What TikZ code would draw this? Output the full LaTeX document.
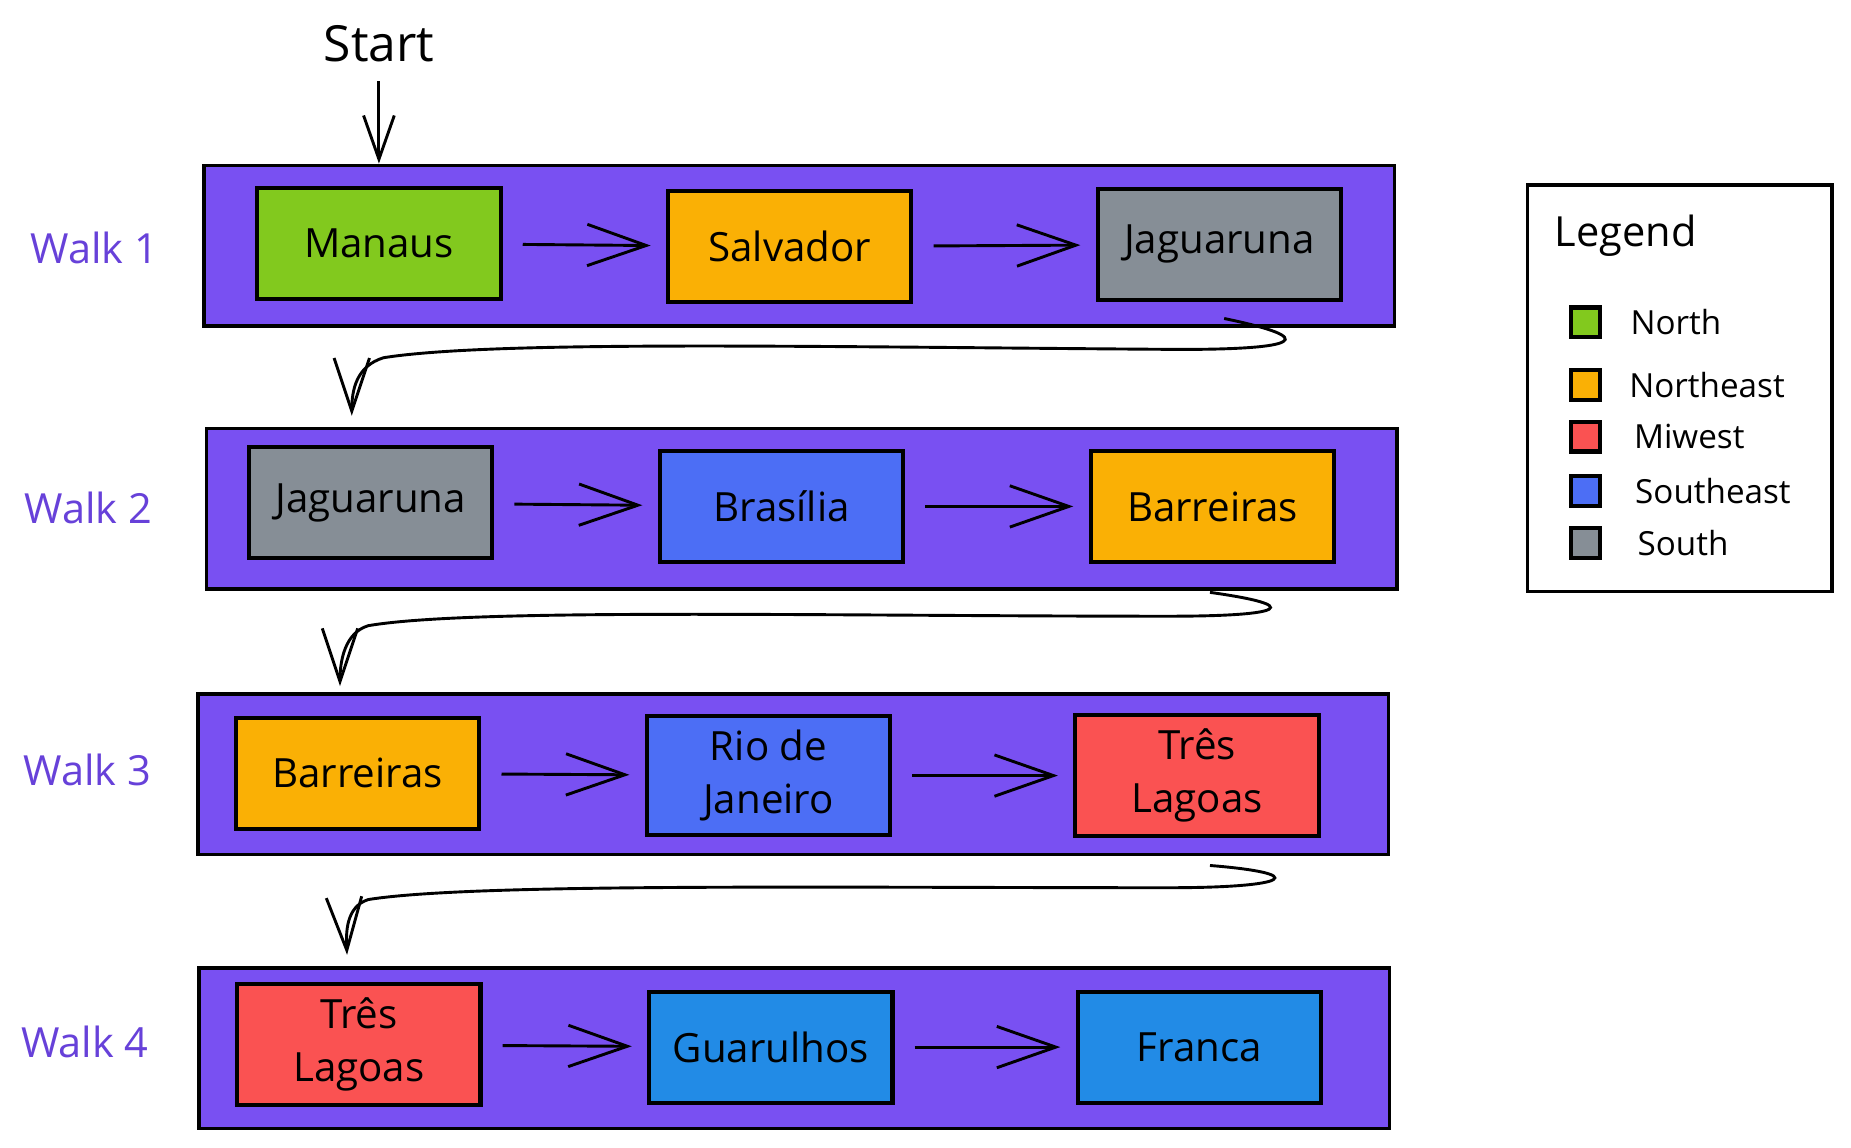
\documentclass[tikz,border=0pt]{standalone}
\usepackage{fontspec}
\setmainfont{Open Sans}
\usetikzlibrary{arrows.meta, positioning, calc}
\definecolor{walkband}{RGB}{121,80,242}
\definecolor{walktext}{RGB}{103,65,217}
\definecolor{north}{RGB}{130,201,30}
\definecolor{northeast}{RGB}{250,176,5}
\definecolor{midwest}{RGB}{250,82,82}
\definecolor{southeast}{RGB}{76,110,245}
\definecolor{southeastb}{RGB}{34,139,230}
\definecolor{south}{RGB}{134,142,150}

\begin{document}
\begin{tikzpicture}[->,>={Straight Barb[length=5mm,width=3.5mm]},x=0.01cm,y=-0.01cm,
      line width=0.7pt,
      band/.style={draw=black,line width=0.8pt,fill=walkband,minimum width=10.08cm,minimum height=1.36cm},
      city/.style={draw=black,line width=1pt,minimum width=2.06cm,minimum height=0.94cm,
         align=center,font=\fontsize{9.7}{12.8}\selectfont},
      walklabel/.style={text=walktext,font=\fontsize{10}{13}\selectfont}]
            \useasboundingbox (0,0) rectangle (1568,972);

            \node [font=\fontsize{12}{14}\selectfont] at (321,37) (start) {Start};

            \node [band] at (677,208) (walk1) {};
            \node [band] at (679,431) (walk2) {};
            \node [band] at (672,656) (walk3) {};
            \node [band] at (673,888) (walk4) {};

            \node [walklabel] at (80,210) (w1) {Walk 1};
            \node [walklabel] at (75,430) (w2) {Walk 2};
            \node [walklabel] at (74,652) (w3) {Walk 3};
            \node [walklabel] at (72,883) (w4) {Walk 4};

             \node [city, fill=north] at (321,206) (c11) {Manaus};
             \node [city, fill=northeast] at (669,209) (c12) {Salvador};
             \node [city, fill=south] at (1033,207) (c13) {Jaguaruna};

             \node [city, fill=south] at (314,426) (c21) {Jaguaruna};
             \node [city, fill=southeast] at (662,429) (c22) {Brasília};
             \node [city, fill=northeast] at (1027,429) (c23) {Barreiras};

             \node [city, fill=northeast] at (303,655) (c31) {Barreiras};
             \node [city, fill=southeast] at (651,657) (c32) {Rio de\\Janeiro};
             \node [city, fill=midwest] at (1014,657) (c33) {Três\\Lagoas};

             \node [city, fill=midwest] at (304,885) (c41) {Três\\Lagoas};
             \node [city, fill=southeastb] at (653,887) (c42) {Guarulhos};
             \node [city, fill=southeastb] at (1016,887) (c43) {Franca};

             \tikzstyle{step line} = [shorten <=0.17cm, shorten >=0.13cm]
             \draw [>={Straight Barb[length=3.7mm,width=2.6mm]}] ([yshift=-1pt]start.south) -- (start |- walk1.north);

             \draw [step line] (c11) -- (c12);
             \draw [step line] (c12) -- (c13);
             \draw [step line] (c21) -- (c22);
             \draw [step line] (c22) -- (c23);
             \draw [step line] (c31) -- (c32);
             \draw [step line] (c32) -- (c33);
             \draw [step line] (c41) -- (c42);
             \draw [step line] (c42) -- (c43);

             \tikzstyle{link} = [>={Straight Barb[length=4.5mm,width=3mm]}]
             \draw [link] ($(c13.south)+(4,14)$) .. controls (1120,287) and (1100,296) .. (1000,296)
                .. controls (700,294) and (420,288) .. (325,303)
                .. controls (302,310) and (298,330) .. ($(c21.north)+(-16,-25)$);
             \draw [link] ($(c23.south)+(-2,24)$) .. controls (1105,513) and (1090,522) .. (990,522)
                .. controls (700,522) and (400,515) .. (312,530)
                .. controls (292,536) and (288,560) .. ($(c31.north)+(-15,-25)$);
             \draw [link] ($(c33.south)+(11,23)$) .. controls (1110,740) and (1095,752) .. (990,752)
                .. controls (700,752) and (400,748) .. (312,762)
                .. controls (293,768) and (293,790) .. ($(c41.north)+(-10,-23)$);

             \node [draw=black, line width=0.9pt, fill=white, minimum width=2.58cm, minimum height=3.44cm] at (1423,329) (legend) {};
             \node [anchor=west, inner sep=0pt, font=\fontsize{10}{12}\selectfont] at (1316,200) (legendtitle) {Legend};

             \tikzstyle{swatch} = [draw=black, line width=1pt, minimum size=0.25cm, inner sep=0pt]
             \tikzstyle{entry} = [anchor=west, inner sep=0pt, font=\fontsize{8}{10}\selectfont]
             \node [swatch, fill=north] at (1343,273) (sw1) {};
             \node [swatch, fill=northeast] at (1343,326) (sw2) {};
             \node [swatch, fill=midwest] at (1343,370) (sw3) {};
             \node [swatch, fill=southeast] at (1343,416) (sw4) {};
             \node [swatch, fill=south] at (1343,460) (sw5) {};
             \node [entry] at (1380,273) (e1) {North};
             \node [entry] at (1379,326) (e2) {Northeast};
             \node [entry] at (1383,370) (e3) {Miwest};
             \node [entry] at (1384,416) (e4) {Southeast};
             \node [entry] at (1386,460) (e5) {South};
\end{tikzpicture}
\end{document}
